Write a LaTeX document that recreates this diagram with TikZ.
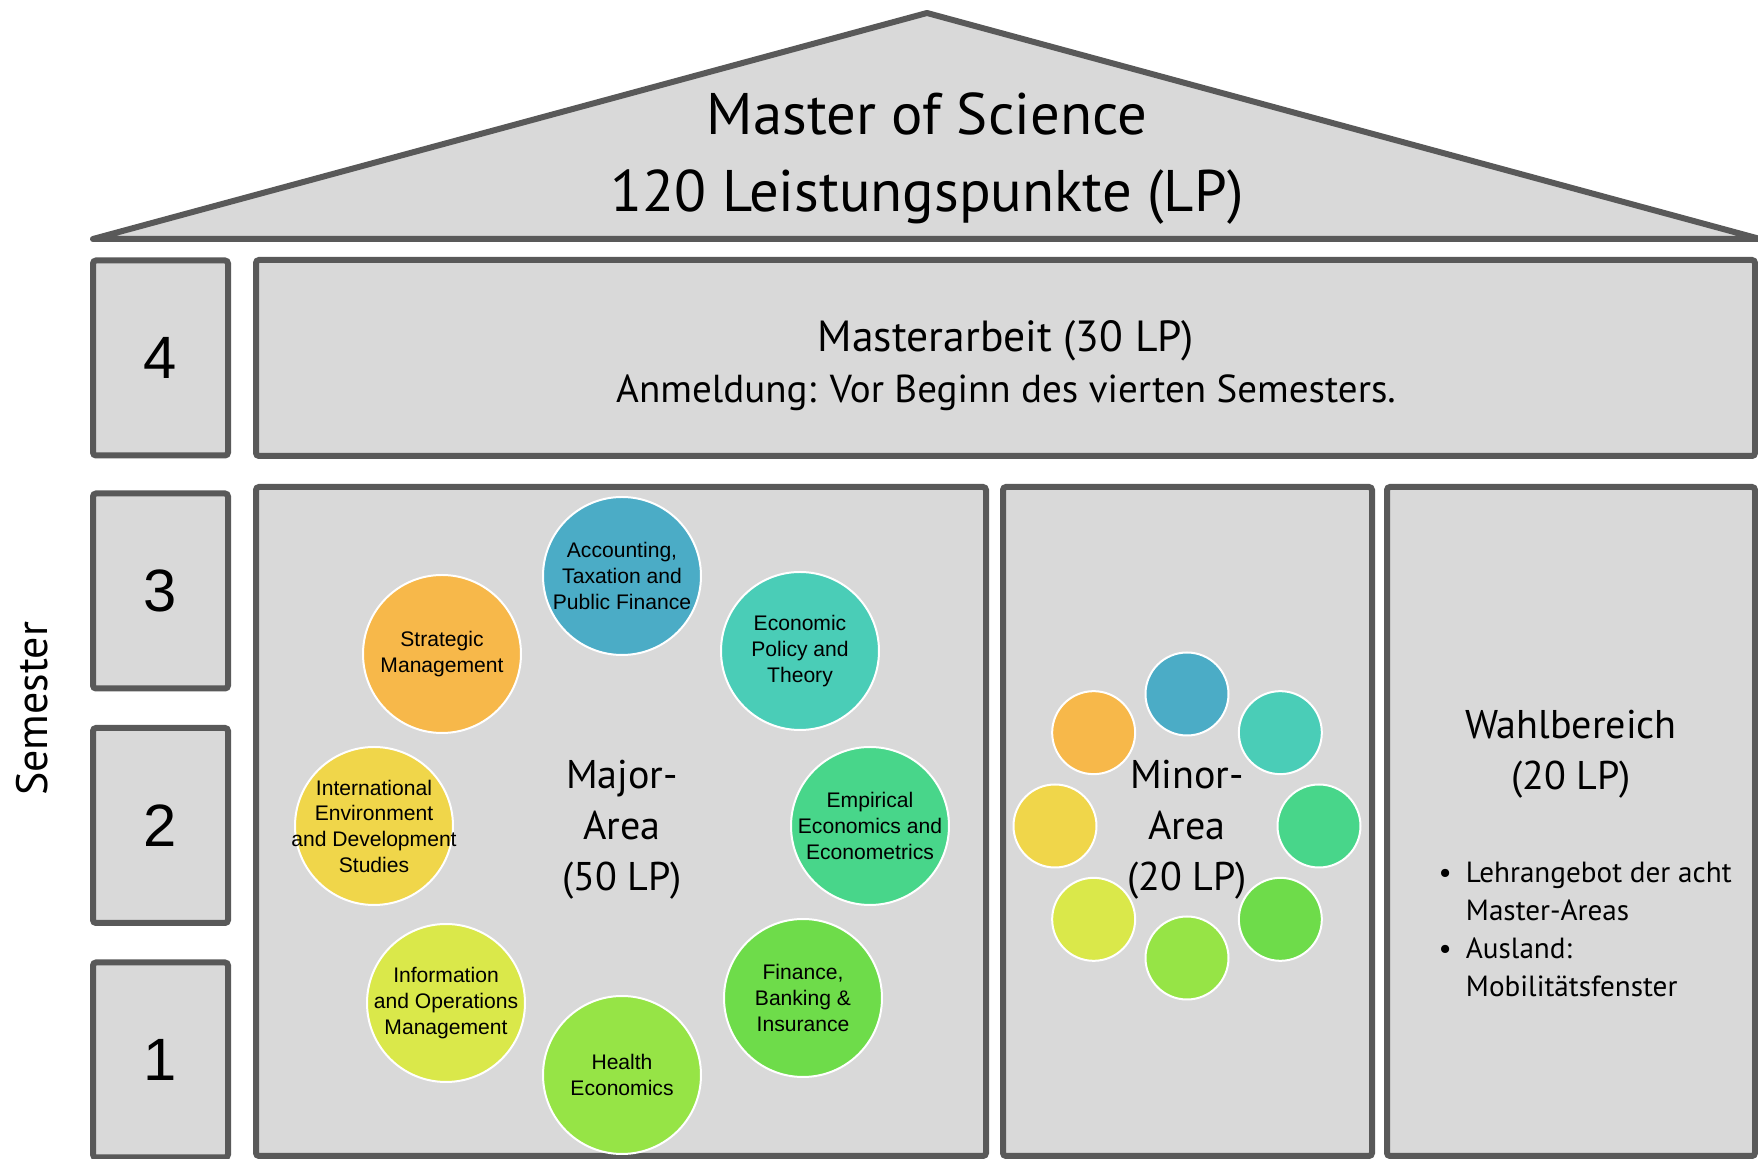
\documentclass[tikz,border=0pt]{standalone}
\usepackage{fontspec}
\setmainfont{PT Sans}
\newfontfamily\arialfont{Liberation Sans}

\definecolor{frame}{HTML}{595959}
\definecolor{panel}{HTML}{D9D9D9}
\definecolor{accBlue}{HTML}{4BACC6}
\definecolor{polTeal}{HTML}{4ACDB7}
\definecolor{empGreen}{HTML}{48D68A}
\definecolor{finGreen}{HTML}{6EDC4A}
\definecolor{heaGreen}{HTML}{96E446}
\definecolor{infLime}{HTML}{DAE84A}
\definecolor{intYellow}{HTML}{F0D64A}
\definecolor{strOrange}{HTML}{F7B84A}

\tikzset{
  panelbox/.style={draw=frame, fill=panel, line width=0.6mm, rounded corners=0.3mm, inner sep=0pt},
  sembox/.style={panelbox, minimum width=13.5mm, minimum height=19.5mm,
    font=\arialfont\fontsize{17}{20}\selectfont},
  bigtext/.style={align=center, inner sep=0pt, font=\fontsize{11.4}{14.5}\selectfont},
  areadot/.style={circle, draw=white, line width=0.2mm, inner sep=0pt},
  clabel/.style={align=center, inner sep=0pt, font=\arialfont\fontsize{6}{7.3}\selectfont},
}

\begin{document}
\begin{tikzpicture}[x=0.1mm, y=0.1mm]
  \useasboundingbox (0,0) rectangle (1758,1159);
  % Roof
  \draw[draw=frame, fill=panel, line width=0.6mm, line join=round]
    (93,920) -- (927,1146) -- (1760,920) -- cycle;
  \node[align=center, inner sep=0pt, font=\fontsize{16.7}{21.9}\selectfont] (title)
    at (927,1000) {Master of Science\\120 Leistungspunkte (LP)};
  % Semester column
  \node[rotate=90, inner sep=0pt, font=\fontsize{12.5}{14}\selectfont] (semlabel) at (32,450) {Semester};
  \foreach \n/\y in {4/801, 3/568, 2/333.5, 1/99}
    \node[sembox] (sem\n) at (160.5,\y) {\n};
  % Masterarbeit
  \node[panelbox, minimum width=149.9mm, minimum height=19.6mm] (thesis) at (1005.5,801) {};
  \node[bigtext] (thesistext) at (1006,793)
    {\fontsize{12.4}{14.5}\selectfont Masterarbeit (30 LP)\\
     \fontsize{11.1}{14.5}\selectfont Anmeldung: Vor Beginn des vierten Semesters.};
  % Panels
  \node[panelbox, minimum width=73mm, minimum height=66.9mm] (major) at (621,337.5) {};
  \node[panelbox, minimum width=36.9mm, minimum height=66.9mm] (minor) at (1187.5,337.5) {};
  \node[panelbox, minimum width=36.8mm, minimum height=66.9mm] (wahl) at (1571,337.5) {};
  % Major-Area ring
  \foreach \n/\c/\x/\y in {acc/accBlue/622/583, pol/polTeal/800/508, emp/empGreen/870/333,
                           fin/finGreen/803/161, hea/heaGreen/622/84, inf/infLime/446/156,
                           int/intYellow/374/333, str/strOrange/442/505}
    \node[areadot, fill=\c, minimum size=15.8mm] (\n) at (\x,\y) {};
  \node[clabel] (accl) at (acc) {Accounting,\\Taxation and\\Public Finance};
  \node[clabel] (poll) at (pol) {Economic\\Policy and\\Theory};
  \node[clabel] (empl) at (emp) {Empirical\\Economics and\\Econometrics};
  \node[clabel] (finl) at (fin) {Finance,\\Banking \&\\Insurance};
  \node[clabel] (heal) at (hea) {Health\\Economics};
  \node[clabel] (infl) at (inf) {Information\\and Operations\\Management};
  \node[clabel] (intl) at (int) {International\\Environment\\and Development\\Studies};
  \node[clabel] (strl) at (str) {Strategic\\Management};
  \node[bigtext] (majortext) at (622,329) {Major-\\Area\\(50 LP)};
  % Minor-Area ring
  \foreach \a/\c/\n in {90/accBlue/macc, 45/polTeal/mpol, 0/empGreen/memp, -45/finGreen/mfin,
                         -90/heaGreen/mhea, -135/infLime/minf, 180/intYellow/mint, 135/strOrange/mstr}
    \node[areadot, fill=\c, minimum size=8.3mm] (\n) at ([shift={(\a:132)}]1187,333) {};
  \node[bigtext] (minortext) at (1187,329) {Minor-\\Area\\(20 LP)};
  % Wahlbereich
  \node[bigtext] (wahltext) at (1571,405) {Wahlbereich\\(20 LP)};
  \node[anchor=base west, inner sep=0pt, font=\fontsize{8.3}{10.8}\selectfont] (wahllist) at (1438,276)
    {\begin{tabular}[t]{@{}l@{\hspace{4pt}}l@{}}
      \textbullet & Lehrangebot der acht\\
                  & Master-Areas\\
      \textbullet & Ausland:\\
                  & Mobilitätsfenster
     \end{tabular}};
\end{tikzpicture}
\end{document}
